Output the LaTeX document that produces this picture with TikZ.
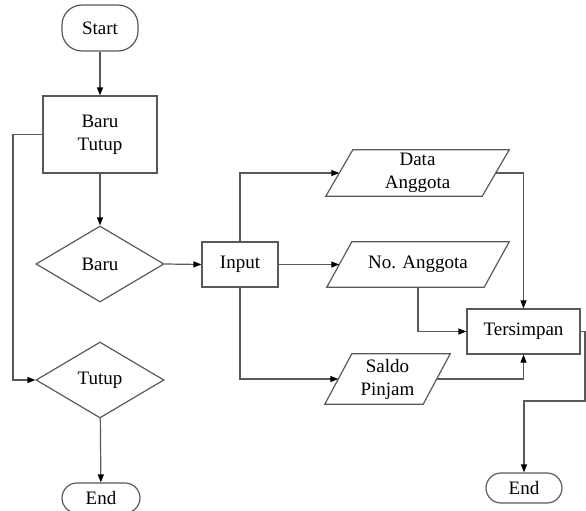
\documentclass[tikz,border=0pt]{standalone}
\usepackage{fontspec}
\setmainfont{Liberation Serif}
\usetikzlibrary{shapes.geometric,arrows.meta}

\tikzset{
  base/.style={font=\fontsize{19}{23}\selectfont, inner sep=0pt, align=center, text=black},
  line/.style={draw=black!65, line width=1.2pt},
  flow/.style={line, -{Triangle[length=8pt,width=6pt,fill=black,color=black]}},
  terminal/.style={base, line, rectangle, rounded corners=#1},
  procbox/.style={base, line, rectangle},
  decision/.style={base, line, diamond},
  iobox/.style={base, rectangle, draw=none},
}

% slanted input/output box drawn around a rectangular node
\newcommand{\slantbox}[2]{%
  \draw[line] ([xshift=#2]#1.north west) -- ([xshift=#2]#1.north east)
    -- ([xshift=-#2]#1.south east) -- ([xshift=-#2]#1.south west) -- cycle;}

\begin{document}
\begin{tikzpicture}[x=1pt, y=-1pt]
  \useasboundingbox (0,0) rectangle (586,511);

  % left column
  \node[terminal=20pt, minimum width=76pt, minimum height=46pt] (start) at (100,28) {Start};
  \node[procbox, minimum width=114pt, minimum height=77pt] (menu) at (100,134.5) {Baru\\Tutup};
  \node[decision, minimum width=128pt, minimum height=76pt] (baru) at (100,264) {Baru};
  \node[decision, minimum width=128pt, minimum height=76pt] (tutup) at (100,380) {Tutup};
  \node[terminal=15pt, minimum width=78pt, minimum height=30pt] (endA) at (101,498) {End};

  % middle: input and data boxes
  \node[procbox, minimum width=76pt, minimum height=45pt] (input) at (240,264.5) {Input};
  \node[iobox, minimum width=156pt, minimum height=46pt] (data) at (417.5,173) {Data\\Anggota};
  \node[iobox, minimum width=157pt, minimum height=45pt] (noang) at (418,264.5) {No. Anggota};
  \node[iobox, minimum width=98pt, minimum height=50pt] (saldo) at (387.5,379) {Saldo\\Pinjam};
  \slantbox{data}{13.5pt}
  \slantbox{noang}{12.5pt}
  \slantbox{saldo}{13.5pt}

  % right column
  \node[procbox, minimum width=113pt, minimum height=45pt] (simpan) at (523.5,331.5) {Tersimpan};
  \node[terminal=15pt, minimum width=76pt, minimum height=30pt] (endB) at (524,488) {End};

  % connectors
  \draw[flow] (start) -- (menu);
  \draw[flow] (menu) -- (baru);
  \draw[flow] (menu.west) -- (13,134.5) -- (13,380) -- (tutup.west);
  \draw[flow] (tutup) -- (endA);
  \draw[flow] (baru.east) -- (input.west);
  \draw[flow] (input.north) -- (240,173) -- (data.west);
  \draw[flow] (input.east) -- (noang.west);
  \draw[flow] (input.south) -- (240,379) -- (saldo.west);
  \draw[flow] (data.east) -- (523.5,173) -- (simpan.north);
  \draw[flow] (noang.south) -- (418,331.5) -- (simpan.west);
  \draw[flow] (saldo.east) -- (523.5,379) -- (simpan.south);
  \draw[flow] (simpan.east) -- (585,331.5) -- (585,401) -- (524,401) -- (endB.north);
\end{tikzpicture}
\end{document}
